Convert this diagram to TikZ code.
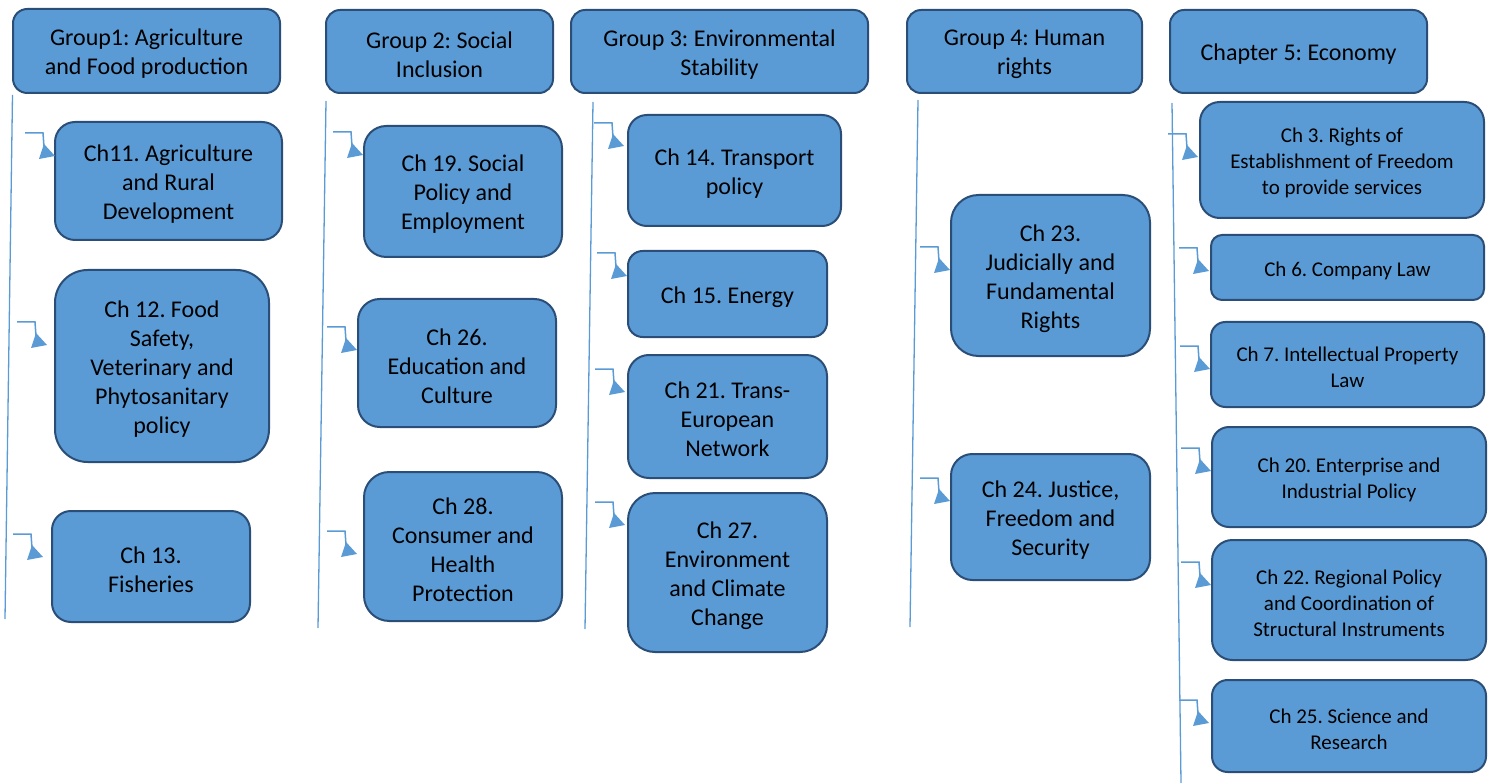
\documentclass[tikz,border=0pt]{standalone}
\usepackage{fontspec}
\setmainfont{Carlito}
\frenchspacing
\definecolor{boxfill}{RGB}{91,155,213}
\definecolor{boxline}{RGB}{42,78,120}
\definecolor{connc}{RGB}{91,155,213}
\newcommand\cbox[7][]{%
  \pgfmathsetmacro\rr{0.17*min(#5-#3,#6-#4)}%
  \node[box,rounded corners=\rr pt,minimum width={(#5-#3)*1pt},minimum height={(#6-#4)*1pt},
        label={[boxtext,#1]center:{#7}}] (#2) at ({(#3+#5)/2},{(#4+#6)/2}) {};}
\tikzset{
  box/.style={draw=boxline,fill=boxfill,line width=2pt,inner sep=0pt,outer sep=0pt},
  boxtext/.style={align=center,text=black,inner sep=0pt,yshift=-3pt,font={\frenchspacing\fontsize{24}{29}\selectfont}},
  small/.style={font={\frenchspacing\fontsize{21}{26}\selectfont}},
  conn/.style={draw=connc,line width=1.5pt},
  guide/.style={draw=connc,line width=1.3pt},
  bent/.pic={\draw[conn] (0,0) -- (18,0) -- (19,14);
             \fill[connc] (19,11) -- (14,26) -- (30,23) -- cycle;}
}
\begin{document}
\begin{tikzpicture}[x=1pt,y=-1pt]
\useasboundingbox (0,0) rectangle (1490,783);
% headers
\cbox{g1}{13}{9}{280}{93}{Group1: Agriculture\\and Food production}
\cbox{g2}{326}{10}{553}{93}{Group 2: Social\\Inclusion}
\cbox{g3}{571}{10}{868}{93}{Group 3: Environmental\\Stability}
\cbox{g4}{907}{10}{1142}{93}{Group 4: Human\\rights}
\cbox{g5}{1170}{10}{1427}{93}{Chapter 5: Economy}
% guide lines
\coordinate (l1a) at (12.5,95);  \coordinate (l1b) at (5,619);
\coordinate (l2a) at (326,101);  \coordinate (l2b) at (318,628);
\coordinate (l3a) at (593,102);  \coordinate (l3b) at (585,629);
\coordinate (l4a) at (918,100);  \coordinate (l4b) at (910,627);
\coordinate (l5a) at (1172,103); \coordinate (l5b) at (1181,783);
\draw[guide] (l1a) -- (l1b);
\draw[guide] (l2a) -- (l2b);
\draw[guide] (l3a) -- (l3b);
\draw[guide] (l4a) -- (l4b);
\draw[guide] (l5a) -- (l5b);
% column 1
\cbox{c11}{55}{122}{282}{240}{Ch11. Agriculture\\and Rural\\Development}
\cbox{c12}{55}{270}{269}{462}{Ch 12. Food\\Safety,\\Veterinary and\\Phytosanitary\\policy}
\cbox{c13}{52}{511}{250}{622}{Ch 13.\\Fisheries}
% column 2
\cbox{c19}{364}{126}{562}{257}{Ch 19. Social\\Policy and\\Employment}
\cbox{c26}{358}{299}{556}{427}{Ch 26.\\Education and\\Culture}
\cbox{c28}{364}{472}{562}{621}{Ch 28.\\Consumer and\\Health\\Protection}
% column 3
\cbox{c14}{628}{115}{841}{226}{Ch 14. Transport\\policy}
\cbox{c15}{628}{251}{827}{337}{Ch 15. Energy}
\cbox{c21}{628}{355}{827}{478}{Ch 21. Trans-\\European\\Network}
\cbox{c27}{628}{493}{827}{652}{Ch 27.\\Environment\\and Climate\\Change}
% column 4
\cbox{c23}{951}{195}{1150}{356}{Ch 23.\\Judicially and\\Fundamental\\Rights}
\cbox{c24}{951}{454}{1150}{580}{Ch 24. Justice,\\Freedom and\\Security}
% column 5
\cbox[small]{c3}{1200}{102}{1484}{218}{Ch 3. Rights of\\Establishment of Freedom\\to provide services}
\cbox[small]{c6}{1211}{235}{1484}{300}{Ch 6. Company Law}
\cbox[small]{c7}{1211}{322}{1484}{407}{Ch 7. Intellectual Property\\Law}
\cbox[small]{c20}{1212}{427}{1486}{527}{Ch 20. Enterprise and\\Industrial Policy}
\cbox[small]{c22}{1212}{540}{1486}{660}{Ch 22. Regional Policy\\and Coordination of\\Structural Instruments}
\cbox[small]{c25}{1212}{680}{1486}{772}{Ch 25. Science and\\Research}
% bent arrows
\coordinate (a11) at (25,133);   \pic at (a11) {bent};
\coordinate (a12) at (17,322);   \pic at (a12) {bent};
\coordinate (a13) at (13,534);   \pic at (a13) {bent};
\coordinate (a19) at (333,132);  \pic at (a19) {bent};
\coordinate (a26) at (327,327);  \pic at (a26) {bent};
\coordinate (a28) at (327,531);  \pic at (a28) {bent};
\coordinate (a14) at (594,123);  \pic at (a14) {bent};
\coordinate (a15) at (597,253);  \pic at (a15) {bent};
\coordinate (a21) at (595,369);  \pic at (a21) {bent};
\coordinate (a27) at (595,502);  \pic at (a27) {bent};
\coordinate (a23) at (920,247);  \pic at (a23) {bent};
\coordinate (a24) at (920,478);  \pic at (a24) {bent};
\coordinate (a3) at (1168,134);  \pic at (a3) {bent};
\coordinate (a6) at (1179,248);  \pic at (a6) {bent};
\coordinate (a7) at (1180,346);  \pic at (a7) {bent};
\coordinate (a20) at (1181,448); \pic at (a20) {bent};
\coordinate (a22) at (1181,562); \pic at (a22) {bent};
\coordinate (a25) at (1179,700); \pic at (a25) {bent};
\end{tikzpicture}
\end{document}
